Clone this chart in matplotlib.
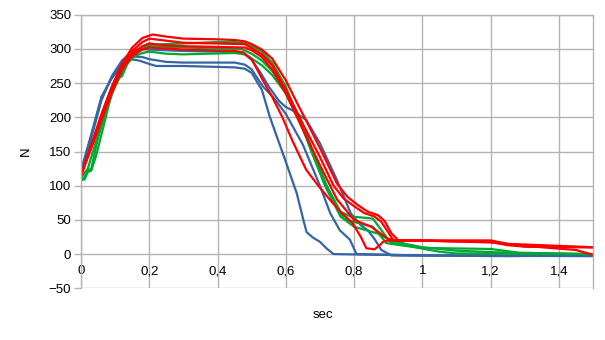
import matplotlib
matplotlib.use("Agg")
import matplotlib.pyplot as plt
from matplotlib.ticker import FuncFormatter

plt.rcParams['font.family'] = ['Liberation Sans', 'DejaVu Sans']

# force curves, time in sec, force in N
b1_t = [0.0, 0.03, 0.06, 0.09, 0.12, 0.15, 0.17, 0.20, 0.30, 0.40, 0.46, 0.48, 0.50, 0.525, 0.55,
        0.58, 0.60, 0.62, 0.66, 0.70, 0.75, 0.79, 0.82, 0.84, 0.86, 0.88, 0.91, 1.00, 1.25, 1.50]
b1_n = [118, 170, 225, 260, 283, 296, 300, 299, 297, 296, 295, 292, 284, 266, 245,
        224, 215, 210, 196, 162, 108, 60, 42, 35, 22, 6, -2, -2, -3, -2]

b2_t = [0.0, 0.03, 0.06, 0.09, 0.12, 0.15, 0.18, 0.20, 0.25, 0.30, 0.45, 0.48, 0.50, 0.533, 0.562,
        0.60, 0.65, 0.70, 0.73, 0.758, 0.775, 0.788, 0.807, 1.00, 1.50]
b2_n = [120, 172, 228, 258, 278, 289, 288, 285, 281, 280, 280, 277, 270, 245, 230,
        205, 160, 100, 60, 35, 27, 21, 0, -2, -2]

b3_t = [0.0, 0.03, 0.06, 0.09, 0.12, 0.145, 0.17, 0.20, 0.22, 0.30, 0.45, 0.48, 0.50, 0.53, 0.553,
        0.60, 0.632, 0.651, 0.661, 0.68, 0.70, 0.72, 0.74, 1.00, 1.50]
b3_n = [122, 175, 230, 257, 276, 285, 283, 278, 275, 275, 273, 271, 265, 240, 201,
        135, 89, 51, 32, 24, 18, 8, 0, -2, -3]

g1_t = [0.0, 0.01, 0.02, 0.03, 0.05, 0.08, 0.10, 0.13, 0.17, 0.20, 0.25, 0.30, 0.40, 0.45, 0.48,
        0.50, 0.53, 0.56, 0.60, 0.622, 0.645, 0.68, 0.72, 0.76, 0.79, 0.855, 0.88, 0.905, 0.95,
        1.00, 1.05, 1.10, 1.50]
g1_n = [110, 112, 122, 125, 170, 220, 245, 275, 298, 306, 307, 308, 310, 310, 308,
        304, 296, 280, 245, 218, 195, 150, 100, 62, 55, 52, 35, 18, 13,
        8, 3.5, 1, 0]

g2_t = [0.0, 0.02, 0.05, 0.08, 0.10, 0.12, 0.14, 0.17, 0.20, 0.30, 0.47, 0.50, 0.53, 0.56, 0.60,
        0.64, 0.675, 0.715, 0.77, 0.80, 0.855, 0.875, 0.895, 0.95, 1.00, 1.20, 1.285, 1.50]
g2_n = [112, 125, 175, 225, 250, 270, 284, 298, 304, 302, 300, 293, 283, 268, 240,
        200, 150, 100, 52, 47, 40, 28, 16, 12, 9, 7.5, 2, 0]

g3_t = [0.0, 0.01, 0.02, 0.03, 0.045, 0.08, 0.10, 0.12, 0.14, 0.16, 0.18, 0.20, 0.25, 0.30, 0.45,
        0.48, 0.50, 0.53, 0.56, 0.60, 0.64, 0.68, 0.72, 0.76, 0.80, 0.87, 0.90, 0.95, 1.00, 1.10,
        1.30, 1.50]
g3_n = [108, 109, 120, 122, 145, 215, 255, 260, 283, 290, 294, 296, 293, 292, 294,
        292, 286, 276, 262, 235, 195, 145, 95, 55, 40, 30, 22, 15, 10, 5,
        1, 0]

r1_t = [0.0, 0.03, 0.06, 0.09, 0.12, 0.15, 0.18, 0.21, 0.25, 0.30, 0.40, 0.45, 0.48, 0.50, 0.53,
        0.56, 0.60, 0.636, 0.66, 0.705, 0.75, 0.78, 0.81, 0.84, 0.87, 0.89, 0.91, 0.93, 0.95, 1.20,
        1.25, 1.30, 1.50]
r1_n = [115, 160, 205, 245, 278, 302, 316, 321, 318, 315, 314, 313, 311, 307, 299,
        286, 254, 218, 195, 150, 103, 84, 72, 62, 57, 48, 30, 20, 20, 18,
        13, 11, 10]

r2_t = [0.0, 0.03, 0.06, 0.09, 0.12, 0.15, 0.18, 0.20, 0.25, 0.30, 0.48, 0.50, 0.53, 0.56, 0.60,
        0.65, 0.70, 0.74, 0.77, 0.80, 0.83, 0.86, 0.88, 0.90, 0.915, 1.00, 1.20, 1.35, 1.45, 1.50]
r2_n = [118, 158, 200, 240, 273, 297, 310, 315, 312, 309, 307, 301, 292, 276, 240,
        190, 142, 100, 81, 70, 60, 55, 47, 32, 20, 20, 17, 10, 6, -1]

r3_t = [0.0, 0.03, 0.06, 0.09, 0.12, 0.15, 0.18, 0.20, 0.25, 0.30, 0.48, 0.50, 0.53, 0.56, 0.60,
        0.65, 0.70, 0.75, 0.80, 0.85, 0.90, 0.93, 1.20, 1.30, 1.50]
r3_n = [116, 155, 196, 236, 270, 293, 304, 308, 305, 304, 302, 298, 288, 270, 235,
        182, 130, 80, 50, 40, 22, 20, 18, 11, 10]

r4_t = [0.0, 0.03, 0.06, 0.09, 0.12, 0.15, 0.18, 0.20, 0.30, 0.45, 0.475, 0.50, 0.533, 0.56, 0.59,
        0.62, 0.66, 0.70, 0.73, 0.76, 0.796, 0.82, 0.836, 0.86, 0.875, 0.885, 0.90, 1.00, 1.20, 1.25,
        1.50]
r4_n = [114, 156, 198, 238, 270, 290, 299, 302, 299, 297, 295, 285, 254, 230, 200,
        165, 123, 97, 79, 62, 45, 25, 8.5, 7, 13, 18, 20, 20, 20, 15,
        10]

blue = '#3465a4'
green = '#00a933'
red = '#ff0000'

series = [
    (b1_t, b1_n, blue), (b2_t, b2_n, blue), (b3_t, b3_n, blue),
    (g1_t, g1_n, green), (g2_t, g2_n, green), (g3_t, g3_n, green),
    (r1_t, r1_n, red), (r2_t, r2_n, red), (r3_t, r3_n, red), (r4_t, r4_n, red),
]

fig = plt.figure(figsize=(6.05, 3.4), dpi=100)
ax = fig.add_axes([81/605, 1 - 288.3/340, 512/605, 273.6/340])

for t, n, c in series:
    ax.plot(t, n, color=c, lw=1.6, solid_joinstyle='round')

ax.set_xlim(0, 1.5)
ax.set_ylim(-50, 350)
ax.set_xticks([0, 0.2, 0.4, 0.6, 0.8, 1.0, 1.2, 1.4])
ax.set_yticks(range(-50, 351, 50))

# decimal comma on the time axis
ax.xaxis.set_major_formatter(FuncFormatter(lambda v, p: ('%g' % round(v, 1)).replace('.', ',')))

grid_c = '#b3b3b3'
ax.grid(True, color=grid_c, lw=1.0)
ax.set_axisbelow(True)
for s in ax.spines.values():
    s.set_color(grid_c)
    s.set_linewidth(1.0)
ax.spines['bottom'].set_position(('data', 0))
ax.spines['bottom'].set_visible(False)

ax.tick_params(axis='y', direction='out', length=5, width=1, color=grid_c, pad=2, labelsize=9.5)
ax.tick_params(axis='x', length=0, pad=8, labelsize=9.5)

ax.set_xlabel('sec', fontsize=9.5)
ax.set_ylabel('N', fontsize=9.5)
ax.xaxis.set_label_coords((323 - 81) / 512, -0.075)
ax.yaxis.set_label_coords(-0.095, 0.5)

fig.savefig('out.png', dpi=100)
